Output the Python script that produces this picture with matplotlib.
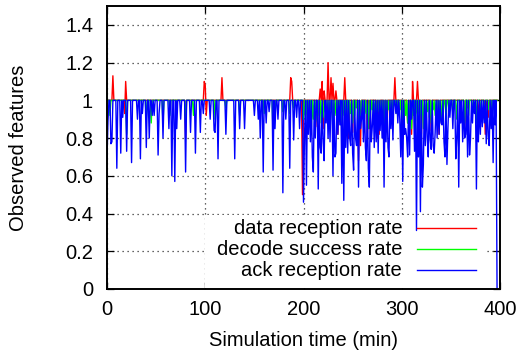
import numpy as np
import matplotlib
matplotlib.use("Agg")
import matplotlib.pyplot as plt
from matplotlib.patches import Rectangle

plt.rcParams['font.family'] = ['Liberation Sans', 'DejaVu Sans']

# ---- data (minutes, value); all other minutes are at 1 ----
t_end = 397
x_ticks = [0, 100, 200, 300, 400]
y_ticks = [0, 0.2, 0.4, 0.6, 0.8, 1, 1.2, 1.4]
y_tick_labels = ["0", "0.2", "0.4", "0.6", "0.8", "1", "1.2", "1.4"]
labels = ["data reception rate", "decode success rate", "ack reception rate"]

red_t = [6, 18, 19, 80, 99, 100, 101, 117, 187, 188, 199, 214, 217, 219, 220, 221,
         225, 228, 230, 233, 235, 242, 246, 250, 256, 258, 265, 267, 275, 277, 282,
         285, 293, 301, 302, 306, 307, 310, 311, 316, 320, 330, 338, 364, 367, 378,
         385, 388]
red_v = [1.13, 0.93, 1.10, 0.80, 1.10, 1.08, 0.92, 1.12, 1.12, 1.10, 0.50, 0.86, 1.06,
         1.10, 0.85, 1.05, 1.20, 1.12, 1.09, 1.05, 0.82, 1.12, 0.80, 0.83, 0.68, 0.76,
         0.82, 0.85, 0.80, 0.82, 0.75, 0.86, 1.12, 0.80, 0.85, 0.88, 0.90, 0.82, 1.10,
         1.10, 0.82, 0.84, 0.82, 0.85, 0.96, 0.89, 0.82, 0.91]

green_t = [3, 20, 40, 45, 57, 64, 80, 88, 110, 121, 135, 160, 169, 171, 179, 186, 190,
           200, 202, 204, 206, 208, 210, 212, 214, 216, 218, 220, 222, 224, 226, 228,
           230, 232, 234, 236, 238, 240, 242, 244, 246, 248, 250, 252, 254, 256, 258,
           260, 262, 264, 266, 268, 270, 272, 274, 276, 278, 280, 282, 284, 286, 288,
           290, 292, 295, 298, 300, 302, 304, 306, 308, 310, 312, 314, 316, 318, 320,
           322, 324, 326, 328, 330, 332, 334, 336, 338, 340, 342, 345, 348, 352, 356,
           360, 364, 368, 372, 376, 380, 384, 388, 392]
green_v = [0.92, 0.82, 0.90, 0.88, 0.88, 0.92, 0.88, 0.92, 0.90, 0.96, 0.92, 0.93, 0.83,
           0.92, 0.94, 0.93, 0.96, 0.90, 0.92, 0.88, 0.93, 0.86, 0.90, 0.95, 0.89, 0.92,
           0.88, 0.91, 0.94, 0.90, 0.93, 0.95, 0.88, 0.92, 0.90, 0.94, 0.87, 0.92, 0.89,
           0.95, 0.90, 0.93, 0.88, 0.92, 0.96, 0.86, 0.92, 0.95, 0.90, 0.93, 0.85, 0.91,
           0.95, 0.92, 0.88, 0.94, 0.90, 0.93, 0.86, 0.92, 0.95, 0.91, 0.94, 0.97, 0.93,
           0.95, 0.90, 0.86, 0.92, 0.88, 0.94, 0.85, 0.92, 0.89, 0.93, 0.87, 0.92, 0.85,
           0.90, 0.94, 0.91, 0.88, 0.95, 0.92, 0.90, 0.94, 0.89, 0.93, 0.90, 0.95, 0.93,
           0.90, 0.95, 0.88, 0.92, 0.94, 0.88, 0.93, 0.90, 0.95, 0.92]

blue_t = [0, 1, 4, 5, 10, 14, 16, 20, 25, 31, 34, 36, 40, 43, 46, 48, 52, 53, 57, 63,
          66, 69, 71, 75, 80, 85, 90, 95, 98, 105, 109, 110, 113, 121, 130, 135, 140,
          150, 154, 156, 159, 162, 165, 169, 171, 174, 179, 182, 186, 190, 193, 196,
          200, 201, 203, 205, 207, 209, 210, 212, 215, 217, 218, 220, 221, 223, 225,
          227, 230, 232, 233, 235, 237, 239, 241, 243, 245, 247, 248, 250, 251, 253,
          254, 256, 258, 259, 261, 263, 264, 266, 267, 269, 270, 272, 274, 276, 278,
          280, 282, 284, 286, 287, 289, 291, 294, 296, 298, 299, 301, 303, 304, 305,
          306, 308, 310, 313, 315, 317, 319, 321, 322, 324, 326, 327, 329, 330, 332,
          333, 334, 336, 338, 340, 341, 343, 344, 346, 347, 349, 352, 355, 356, 358,
          360, 362, 364, 365, 367, 369, 370, 372, 374, 376, 378, 380, 382, 384, 386,
          388, 389, 391, 393, 395, 397]
blue_v = [0.69, 0.89, 0.77, 0.78, 0.64, 0.72, 0.91, 0.73, 0.67, 0.90, 0.69, 0.93, 0.75,
          0.80, 0.92, 0.92, 0.71, 0.93, 0.80, 0.85, 0.60, 0.57, 0.85, 0.90, 0.62, 0.83,
          0.72, 0.83, 0.93, 0.90, 0.84, 0.83, 0.69, 0.82, 0.69, 0.85, 0.85, 0.92, 0.90,
          0.80, 0.62, 0.88, 0.94, 0.63, 0.85, 0.90, 0.51, 0.90, 0.64, 0.79, 0.91, 0.85,
          0.46, 0.80, 0.55, 0.82, 0.78, 0.70, 0.62, 0.80, 0.53, 0.75, 0.72, 0.78, 0.68,
          0.88, 0.80, 0.78, 0.60, 0.70, 0.72, 0.82, 0.87, 0.56, 0.47, 0.75, 0.72, 0.80,
          0.76, 0.72, 0.63, 0.80, 0.76, 0.54, 0.85, 0.90, 0.78, 0.75, 0.68, 0.64, 0.54,
          0.78, 0.86, 0.75, 0.78, 0.72, 0.84, 0.80, 0.54, 0.78, 0.75, 0.70, 0.85, 0.79,
          0.93, 0.88, 0.90, 0.70, 0.57, 0.82, 0.85, 0.80, 0.70, 0.71, 0.90, 0.73, 0.31,
          0.70, 0.41, 0.54, 0.66, 0.76, 0.80, 0.70, 0.79, 0.74, 0.76, 0.72, 0.83, 0.80,
          0.82, 0.88, 0.87, 0.78, 0.70, 0.66, 0.85, 0.91, 0.85, 0.69, 0.80, 0.54, 0.88,
          0.78, 0.80, 0.82, 0.70, 0.71, 0.80, 0.88, 0.93, 0.53, 0.78, 0.82, 0.86, 0.88,
          0.77, 0.81, 0.76, 0.85, 0.67, 0.87, 0.0]


def build(ts, vs):
    t = np.arange(0, t_end + 1)
    v = np.ones_like(t, dtype=float)
    v[np.asarray(ts)] = vs
    return t, v


series = [build(red_t, red_v), build(green_t, green_v), build(blue_t, blue_v)]
colors = ["#ff0000", "#00ff00", "#0000ff"]
FS = 14.5

fig = plt.figure(figsize=(5.23, 3.54), dpi=100)
ax = fig.add_axes([107 / 523, 65 / 354, 393 / 523, 283 / 354])

for (t, v), c in zip(series, colors):
    ax.plot(t, v, color=c, lw=1.0, zorder=3)

ax.set_xlim(0, 400)
ax.set_ylim(0, 1.5)
ax.set_xticks(x_ticks)
ax.set_xticklabels([str(x) for x in x_ticks])
ax.set_yticks(y_ticks)
ax.set_yticklabels(y_tick_labels)
ax.grid(True, color="#333333", linestyle=(0, (1, 3)), linewidth=0.9, zorder=0.5)
ax.set_axisbelow(True)
ax.tick_params(axis="both", direction="in", length=5, width=0.9, top=True, right=True,
               labelsize=FS, colors="black")
ax.tick_params(axis="x", pad=8)
ax.tick_params(axis="y", pad=10)
for s in ax.spines.values():
    s.set_linewidth(1.4)
    s.set_zorder(5)

ax.set_xlabel("Simulation time (min)", fontsize=FS)
ax.set_ylabel("Observed features", fontsize=FS)
ax.yaxis.set_label_coords(-0.200, 0.5)
ax.xaxis.set_label_coords(0.5, -0.147)

# opaque key box (gnuplot style) with right-justified text and sample line
ax.add_patch(Rectangle((0.25, 0.005), 0.713, 0.258, transform=ax.transAxes,
                       facecolor="white", edgecolor="none", zorder=1))
rows = [0.2155, 0.1413, 0.0671]
for lab, c, y in zip(labels, colors, rows):
    ax.text(0.751, y, lab, transform=ax.transAxes, ha="right", va="center",
            fontsize=FS, zorder=6)
    ax.plot([0.789, 0.939], [y, y], transform=ax.transAxes, color=c, lw=1.0,
            zorder=6, clip_on=False)

fig.savefig("out.png", dpi=100)
